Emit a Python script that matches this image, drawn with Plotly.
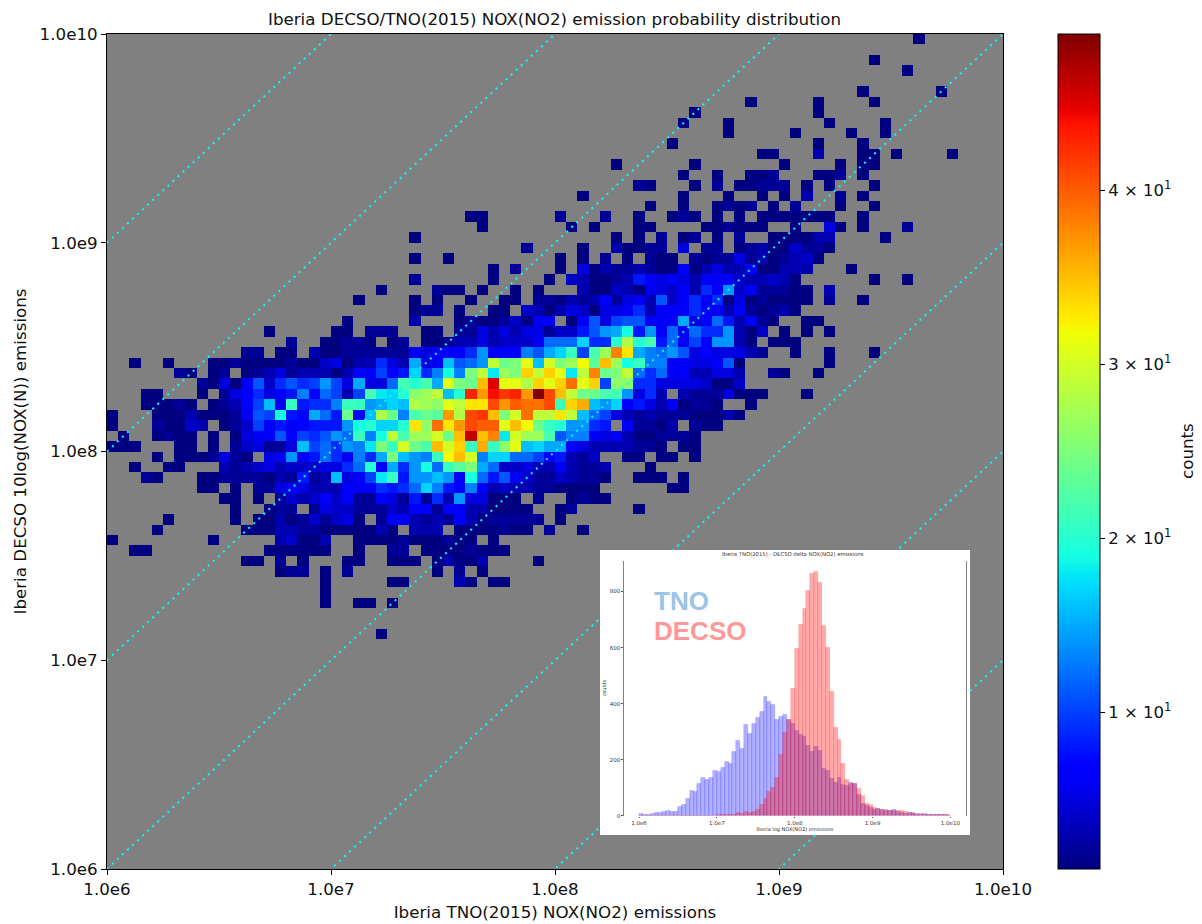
import plotly.graph_objects as go

N_BINS = 80
LOG_MIN, LOG_MAX = 6.0, 10.0
DIAGONAL_FACTORS = [1000, 100, 10, 1, 0.1, 0.01, 0.001]
AXIS_TICKS = [1e6, 1e7, 1e8, 1e9, 1e10]
AXIS_TICK_TEXT = ["1.0e6", "1.0e7", "1.0e8", "1.0e9", "1.0e10"]
CBAR_TICKS = [10, 20, 30, 40]
CBAR_TICK_TEXT = ["1 × 10<sup>1</sup>", "2 × 10<sup>1</sup>", "3 × 10<sup>1</sup>", "4 × 10<sup>1</sup>"]

# counts per cell; one list per row, numbered from the bottom of the plot, 0 = empty
row_22 = [0]*24+[1]
row_25 = [0]*19+[1,0,0,1,1,0,1]
row_26 = [0]*19+[1]
row_27 = [0]*19+[1,0,0,0,0,0,1,1,0,0,0,0,3,1,0,1,1]
row_28 = [0]*15+[1,2,2,0,1,0,2,0,0,0,0,0,0,0,1,0,2,0,1]
row_29 = [0]*12+[1,1,0,2,0,1,0,0,0,1,1,0,0,1,1,1,0,1,3,1,1,3,0,0,0,0,1]
row_30 = [0,0,1,1]+[0]*10+[1,1,1,1,1,1,0,0,1,0,0,2,2,0,1,1,1,1,2,1,1,1]
row_31 = [1]+[0]*8+[1]+[0]*5+[3,4,1,1,3,0,0,1,1,1,1,2,1,1,1,2,1,1,0,1]
row_32 = [0,0,0,0,1]+[0]*7+[1,1,1,3,3,2,2,1,1,1,1,1,3,1,0,3,3,3,0,1,1,1,1,2,1,1,0,2,0,0,1]
row_33 = [0]*5+[1]+[0]*5+[1,0,1,1,3,1,2,4,2,4,5,1,0,2,6,6,3,2,3,2,7,3,1,2,2,2,2,2,0,1]
row_34 = [0]*11+[1,0,0,1,2,2,0,2,5,4,4,2,2,2,4,3,7,6,2,6,6,3,3,1,1,1,1,0,0,1,2,0,0,0,0,0,1]
row_35 = [0]*10+[1,1,0,1,0,2,4,3,4,6,4,6,2,2,7,5,2,8,2,9,3,14,5,5,1,1,1,0,2,0,0,1,2,1,1]
row_36 = [0]*8+[1,1,0,1,0,2,2,5,6,5,3,3,3,6,6,6,9,8,9,12,17,13,8,7,13,6,3,4,3,3,2,2,1,1,1,1,0,0,0,0,0,0,1,1]
row_37 = [0,0,0,2,1,0,0,0,1,1,2,2,2,2,1,3,2,8,2,3,16,5,6,10,18,21,8,14,14,16,14,6,19,12,8,11,6,4,2,2,4,3,2,2,1,0,0,1,1,1,0,1]
row_38 = [0,0,1,0,0,1,1,0,0,0,3,2,3,4,5,3,4,4,4,5,5,9,12,20,6,15,9,14,19,12,21,23,25,15,12,4,4,5,3,3,6,3,2,2,3,0,0,0,1]
row_39 = [0,0,0,0,1,0,1,1,1,2,5,2,1,0,5,6,14,6,8,12,9,6,13,9,15,25,16,14,13,21,32,35,30,13,17,17,12,12,10,7,8,3,2,4,0,0,1,1,0,1,1,0,1]
row_40 = [1,1,1,0,0,0,1,1,0,1,0,2,4,5,2,2,5,16,10,12,9,14,13,18,25,21,30,24,22,35,30,34,21,36,21,26,31,16,17,15,15,7,5,3,3,3,3,2,2,1,0,1,1]
row_41 = [0,1,0,0,1,2,1,1,0,1,0,1,5,6,6,11,7,10,9,11,14,12,21,13,19,29,22,27,27,30,24,35,46,35,38,18,30,27,27,22,11,13,13,6,5,7,3,1,1,2,2,2,1]
row_42 = [1,0,0,0,2,1,1,4,3,0,1,2,4,10,6,8,6,7,8,8,8,14,19,20,17,17,20,33,26,39,33,37,41,40,40,31,35,32,24,21,20,14,14,9,8,0,6,2,2,1,3,0,2,1,1]
row_43 = [1,0,0,0,1,1,1,3,1,1,1,2,6,11,10,19,8,7,15,12,8,24,7,16,28,24,13,22,24,23,37,28,41,42,35,25,30,39,29,29,33,29,16,12,10,5,3,2,3,2,2,2,1,1,1,3,1]
row_44 = [0,0,0,1,1,1,2,1,0,1,2,3,7,10,16,6,21,8,9,9,13,21,21,14,15,17,16,28,27,26,31,29,33,33,41,37,40,39,39,41,21,34,36,16,14,17,6,8,5,3,6,1,2,2,1,0,0,1]
row_45 = [0,0,0,1,1,0,0,0,1,0,2,5,7,9,5,6,8,13,7,12,10,3,10,22,18,17,20,26,27,29,16,20,43,37,44,42,43,37,49,41,35,29,24,24,22,22,14,5,9,3,0,3,2,2,2,5,1,1,1,0,0,0,1]
row_46 = [0]*8+[2,1,5,1,6,11,4,9,11,9,10,14,10,5,15,5,5,12,22,20,22,15,31,25,24,35,45,31,31,28,34,31,34,39,31,34,10,26,26,9,9,5,5,5,5,4,1,1,4]
row_47 = [0]*6+[2,1,0,1,2,0,1,2,3,5,2,3,3,3,1,3,7,6,10,6,8,17,9,13,19,13,25,29,18,27,25,34,29,34,31,18,29,38,24,25,29,12,9,12,6,7,3,3,5,5,3,0,0,2,1,0,0,1]
row_48 = [0,0,1,0,0,1,0,0,0,1,1,2,1,1,1,1,2,1,1,4,5,1,3,3,9,5,3,15,5,6,16,11,12,14,29,24,25,31,16,30,25,27,32,23,35,27,19,21,13,13,6,6,5,5,6,11,1]+[0]*7+[1]
row_49 = [0]*12+[2,2,0,1,1,0,3,1,1,2,2,2,2,2,2,6,5,6,7,6,9,14,6,6,7,13,11,15,17,21,10,22,27,38,33,15,13,12,14,11,5,7,5,5,5,3,2,0,0,1,0,0,1,0,0,0,1]
row_50 = [0]*16+[2,0,0,1,1,2,2,1,0,1,2,0,1,1,2,3,3,5,3,4,4,4,6,12,12,12,17,9,9,20,28,20,22,8,12,6,10,7,14,14,3,1,0,1,1,1]
row_51 = [0]*14+[1]+[0]*5+[1,1,0,2,2,2,0,0,1,1,0,2,2,5,3,5,3,5,5,2,4,4,8,11,14,15,19,8,14,6,12,6,12,9,9,14,3,1,4,0,1,0,1,0,1]
row_52 = [0]*21+[1]+[0]*5+[3,0,0,0,1,2,1,1,2,4,1,6,6,0,1,6,11,5,10,11,11,6,6,6,15,5,7,12,8,3,6,2,1,0,0,1,1]
row_53 = [0]*27+[1,2,2,0,1,0,0,1,1,0,4,3,1,3,5,4,1,5,5,6,9,3,6,6,6,9,6,6,3,6,2,1,2,3,1]
row_54 = [0]*22+[1,0,0,0,0,1,0,1,0,0,1,0,0,1,1,0,2,2,1,3,2,3,6,2,5,6,3,11,4,6,9,6,9,1,5,1,2,1,1,1,1,0,2,0,0,1]
row_55 = [0]*24+[1,0,0,0,0,2,1,1,0,1,0,0,1,0,1,0,0,0,3,1,1,4,3,1,6,5,4,6,3,9,6,14,4,6,2,2,2,1,1,0,3]
row_56 = [0]*27+[2]+[0]*6+[1]+[0]*4+[1,0,4,3,1,1,2,3,8,6,5,6,5,3,6,6,6,4,3,3,4,3,1]+[0]*6+[1,0,0,1]
row_57 = [0]*34+[1,0,2,0,0,0,1,0,5,1,3,2,2,3,2,1,1,7,1,3,5,3,3,6,1,1,3,3,3,0,0,0,1]
row_58 = [0]*27+[1,0,0,1]+[0]*9+[1,0,1,0,2,0,1,0,2,1,1,0,2,1,2,2,5,2,3,1,2,3,4,1]
row_59 = [0]*37+[2]+[0]*4+[1,0,0,3,1,1,2,2,0,5,0,2,2,0,1,2,3,1,1,4,2,2,1]
row_60 = [0]*27+[1]+[0]*17+[1,0,1,0,2,0,1,2,0,1,0,2,0,0,1,1,1,1,3,3]+[0]*4+[1]
row_61 = [0]*33+[1]+[0]*7+[1,0,1,0,0,0,1,1,0,0,0,0,1,1,2,1,1,1,0,0,1,0,0,5,1,0,1,0,0,0,2]
row_62 = [0]*32+[1,1]+[0]*6+[2,0,0,0,2,0,0,1,0,0,1,2,1,0,1,0,1,0,1,1,1,1,1,1,1,0,0,1]
row_63 = [0]*48+[1,0,0,1,0,0,1,2,1,2,0,1,0,2,0,0,0,1,0,0,1]
row_64 = [0]*42+[1]+[0]*8+[1,0,0,0,1,0,0,1,0,1,0,3,0,0,2,0,1]
row_65 = [0]*47+[2,1,0,0,0,1,0,2,0,1,1,2,2,2,0,1,0,1,0,0,0,1]
row_66 = [0]*51+[1,0,0,1,0,0,1,1,2,0,0,0,1,1,2,0,1]
row_67 = [0]*45+[1]+[0]*6+[1]+[0]*7+[1]+[0]*4+[1,0,1,1]
row_68 = [0]*58+[1,1,0,0,0,3,0,0,0,1,1,0,1,0,0,0,0,1]
row_69 = [0]*50+[1]+[0]*12+[1,0,0,0,1]
row_70 = [0]*55+[1]+[0]*5+[1]+[0]*4+[1,0,0,1]
row_71 = [0]*51+[1,0,0,0,1]+[0]*8+[1]+[0]*4+[1]
row_72 = [0]*52+[1]+[0]*10+[1]
row_73 = [0]*57+[1]+[0]*5+[1]+[0]*4+[1]
row_74 = [0]*67+[1]+[0]*6+[1]
row_76 = [0]*71+[1]
row_77 = [0]*68+[1]
row_79 = [0]*72+[1]

# inset histogram counts, 80 bins
tno_counts = [6,3,5,6,12,11,15,19,13,14,33,38,62,90,86,114,137,127,136,161,
              157,170,192,186,227,267,238,324,294,327,349,370,423,408,395,341,353,362,343,330,
              302,288,282,249,228,245,231,169,161,133,118,137,109,107,119,115,74,44,36,30,
              23,24,20,19,18,22,14,10,8,9,8,6,5,6,5,5,4,3,2,1]
decso_counts = [0,0,0,0,0,0,0,0,0,0,0,0,0,0,1,1,1,1,1,1,
                2,4,3,2,3,9,8,13,12,14,23,40,62,84,99,137,219,297,344,454,
                597,680,738,802,865,869,832,678,600,443,314,272,184,127,115,113,98,70,44,38,
                29,24,22,20,19,18,17,17,14,11,9,5,6,4,4,3,3,3,2,2]
INSET_TICKS = [6, 7, 8, 9, 10]
INSET_Y_TICKS = [0, 200, 400, 600, 800]

rows = {k: v for k, v in globals().items() if k.startswith("row_")}
z = []
for r in range(N_BINS):
    vals = list(rows.get(f"row_{r}", []))
    vals += [0] * (N_BINS - len(vals))
    z.append([v if v > 0 else None for v in vals[:N_BINS]])

step = (LOG_MAX - LOG_MIN) / N_BINS
edges = [10 ** (LOG_MIN + i * step) for i in range(N_BINS + 1)]
centers = [LOG_MIN + (i + 0.5) * step for i in range(N_BINS)]


def jet_stops():
    R = [(0, 0), (0.35, 0), (0.66, 1), (0.89, 1), (1, 0.5)]
    G = [(0, 0), (0.125, 0), (0.375, 1), (0.64, 1), (0.91, 0), (1, 0)]
    B = [(0, 0.5), (0.11, 1), (0.34, 1), (0.65, 0), (1, 0)]

    def interp(tbl, t):
        for (a, va), (b, vb) in zip(tbl, tbl[1:]):
            if a <= t <= b:
                return va + (vb - va) * (t - a) / (b - a)
        return tbl[-1][1]

    ts = sorted({p[0] for tbl in (R, G, B) for p in tbl})
    return [[t, "rgb(%d,%d,%d)" % tuple(round(255 * interp(tbl, t)) for tbl in (R, G, B))] for t in ts]


# page geometry of the main plot area
W, H = 1202, 924
L, R_, T, B = 107, 1003, 34, 869
px = lambda x: (x - L) / (R_ - L)
py = lambda y: (B - y) / (B - T)
FONT = "DejaVu Sans"
TXT = "#111111"
FS = 16.7

fig = go.Figure()
fig.add_trace(go.Heatmap(
    x=edges, y=edges, z=z, zmin=1, zmax=49, zsmooth=False,
    colorscale=jet_stops(), hoverongaps=False,
    colorbar=dict(
        x=px(1058), xanchor="left", y=0.5, yanchor="middle", len=1, lenmode="fraction",
        thickness=42, thicknessmode="pixels", xpad=0, ypad=0,
        outlinecolor="black", outlinewidth=1,
        tickmode="array", tickvals=CBAR_TICKS, ticktext=CBAR_TICK_TEXT,
        ticks="outside", ticklen=5, tickwidth=1, tickcolor="black",
        tickfont=dict(family=FONT, size=16.5, color=TXT),
    ),
))
for f in DIAGONAL_FACTORS:
    fig.add_trace(go.Scatter(
        x=[1e6, 1e10], y=[f * 1e6, f * 1e10], mode="lines",
        line=dict(color="#00ffff", width=2, dash="2px,4.9px"), showlegend=False, hoverinfo="skip",
    ))

# white panel behind the inset
fig.add_trace(go.Scatter(
    x=[0, 1, 1, 0, 0], y=[0, 0, 1, 1, 0], mode="lines", fill="toself", fillcolor="white",
    line=dict(width=0, color="white"), xaxis="x2", yaxis="y2", showlegend=False, hoverinfo="skip",
))
fig.add_trace(go.Bar(
    x=centers, y=tno_counts, width=step, xaxis="x3", yaxis="y3", showlegend=False,
    marker=dict(color="rgba(0,0,255,0.31)", line=dict(color="rgba(0,0,255,0.3)", width=0.5)),
))
fig.add_trace(go.Bar(
    x=centers, y=decso_counts, width=step, xaxis="x3", yaxis="y3", showlegend=False,
    marker=dict(color="rgba(255,0,0,0.33)", line=dict(color="rgba(255,0,0,0.3)", width=0.5)),
))

main_axis = dict(
    type="log", range=[LOG_MIN, LOG_MAX], tickmode="array", tickvals=AXIS_TICKS, ticktext=AXIS_TICK_TEXT,
    ticks="outside", ticklen=5, tickwidth=1, tickcolor="black", showline=True, linecolor="black", linewidth=1,
    mirror=True, showgrid=False, zeroline=False, automargin=False, tickfont=dict(family=FONT, size=FS, color=TXT),
)
fig.update_layout(
    width=W, height=H, autosize=False,
    margin=dict(l=L, r=W - R_, t=T, b=H - B, pad=0),
    paper_bgcolor="white", plot_bgcolor="rgba(0,0,0,0)", barmode="overlay", bargap=0,
    shapes=[dict(type="rect", xref="x domain", yref="y domain", x0=0, x1=1, y0=0, y1=1,
                 fillcolor="#808080", line=dict(width=0), layer="below")],
    title=dict(text="Iberia DECSO/TNO(2015) NOX(NO2) emission probability distribution",
               x=px(554.5), xref="paper", xanchor="center", y=1 - 19 / H, yref="container", yanchor="middle",
               font=dict(family=FONT, size=FS, color=TXT)),
    xaxis=dict(main_axis, domain=[0, 1], title=dict(text="Iberia TNO(2015) NOX(NO2) emissions", standoff=8,
               font=dict(family=FONT, size=FS, color=TXT))),
    yaxis=dict(main_axis, domain=[0, 1], title=dict(text="Iberia DECSO 10log(NOX(N)) emissions", standoff=8,
               font=dict(family=FONT, size=FS, color=TXT))),
    xaxis2=dict(domain=[px(600), px(970)], range=[0, 1], visible=False, anchor="y2", fixedrange=True),
    yaxis2=dict(domain=[py(835), py(550)], range=[0, 1], visible=False, anchor="x2", fixedrange=True),
    xaxis3=dict(domain=[px(624), px(966)], range=[5.807, 10.2], anchor="y3", tickmode="array", automargin=False,
                tickvals=INSET_TICKS, ticktext=AXIS_TICK_TEXT, ticks="outside", ticklen=1.5, tickwidth=0.5,
                tickcolor="#555", showgrid=False, zeroline=False, showline=False, tickangle=0,
                tickfont=dict(family=FONT, size=5.5, color="#333"),
                title=dict(text="Iberia log NOX(NO2) emissions", standoff=0, font=dict(family=FONT, size=5, color="#333"))),
    yaxis3=dict(domain=[py(815.7), py(560.7)], range=[0, 910], anchor="x3", tickmode="array", automargin=False,
                tickvals=INSET_Y_TICKS, ticks="outside", ticklen=1.5, tickwidth=0.5, tickcolor="#555",
                showgrid=False, zeroline=False, showline=True, mirror=True, linecolor="#808080", linewidth=1.3,
                tickfont=dict(family=FONT, size=5.5, color="#333"),
                title=dict(text="counts", standoff=2, font=dict(family=FONT, size=5, color="#333"))),
    annotations=[
        dict(text="<b>TNO</b>", x=px(652), y=py(601), xref="paper", yref="paper", xanchor="left", yanchor="middle",
             showarrow=False, font=dict(family="Liberation Sans", size=26, color="#9dc3e6")),
        dict(text="<b>DECSO</b>", x=px(652), y=py(631), xref="paper", yref="paper", xanchor="left", yanchor="middle",
             showarrow=False, font=dict(family="Liberation Sans", size=26, color="#ff9999")),
        dict(text="Iberia TNO(2015) - DECSO delta NOX(NO2) emissions", x=px(793), y=py(553.5), xref="paper", yref="paper",
             xanchor="center", yanchor="middle", showarrow=False, font=dict(family=FONT, size=5.3, color="#333")),
        dict(text="counts", x=px(1187), y=py(451), xref="paper", yref="paper", xanchor="center", yanchor="middle",
             textangle=-90, showarrow=False, font=dict(family=FONT, size=FS, color=TXT)),
    ],
)
fig.write_html("out.html", post_script="document.body.style.margin='0';", config={"displayModeBar": False})
